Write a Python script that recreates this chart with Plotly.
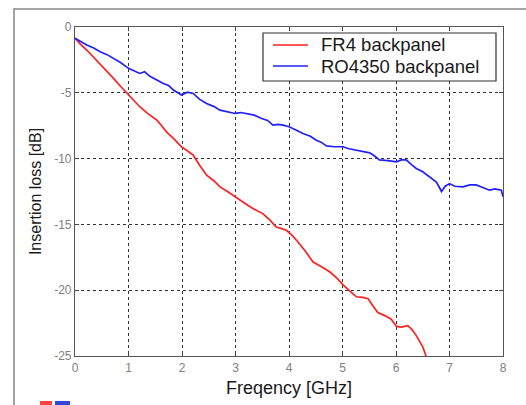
import plotly.graph_objects as go

# FR4 backpanel (red)
fr4_x = [0.0, 0.1, 0.22, 0.35, 0.47, 0.6, 0.72, 0.85, 1.0, 1.1, 1.21, 1.35, 1.53, 1.62, 1.71, 1.85, 1.99, 2.1, 2.21, 2.33, 2.46, 2.6, 2.71, 2.85, 2.99,
         3.1, 3.25, 3.35, 3.51, 3.65, 3.76, 3.85, 3.95, 4.05, 4.14, 4.3, 4.45, 4.6, 4.76, 4.9, 5.01, 5.15, 5.26, 5.38, 5.48, 5.57, 5.66,
         5.8, 5.91, 6.01, 6.1, 6.22, 6.3, 6.38, 6.45, 6.5, 6.57]
fr4_y = [-0.85, -1.3, -1.75, -2.3, -2.76, -3.35, -3.9, -4.5, -5.17, -5.6, -6.06, -6.55, -7.08, -7.5, -7.97, -8.5, -9.11, -9.4, -9.74, -10.5, -11.26, -11.7, -12.15, -12.5, -12.9,
         -13.2, -13.6, -13.85, -14.18, -14.7, -15.2, -15.3, -15.45, -15.8, -16.2, -17.0, -17.86, -18.2, -18.6, -19.1, -19.6, -20.1, -20.5, -20.55, -20.65, -21.2, -21.7,
         -21.95, -22.2, -22.75, -22.8, -22.7, -23.0, -23.45, -23.9, -24.3, -25.1]

# RO4350 backpanel (blue)
ro_x = [0.0, 0.1, 0.22, 0.35, 0.47, 0.6, 0.72, 0.85, 1.0, 1.1, 1.21, 1.3, 1.4, 1.53, 1.65, 1.75, 1.84, 1.99, 2.1, 2.21, 2.33, 2.46, 2.6, 2.71, 2.85, 2.99,
        3.1, 3.21, 3.35, 3.49, 3.6, 3.7, 3.8, 3.89, 4.0, 4.12, 4.26, 4.4, 4.51, 4.6, 4.7, 4.85, 5.01, 5.12, 5.26, 5.4, 5.51, 5.6, 5.69,
        5.85, 6.01, 6.1, 6.19, 6.3, 6.38, 6.5, 6.63, 6.75, 6.8, 6.85, 6.92, 7.0, 7.1, 7.25, 7.38, 7.5, 7.62, 7.75, 7.85, 7.97, 8.0]
ro_y = [-0.86, -1.1, -1.37, -1.6, -1.88, -2.1, -2.38, -2.7, -3.14, -3.3, -3.53, -3.4, -3.75, -4.03, -4.3, -4.45, -4.79, -5.17, -4.95, -5.05, -5.5, -5.81, -6.05, -6.32, -6.45, -6.57,
        -6.5, -6.57, -6.7, -6.95, -7.1, -7.46, -7.4, -7.46, -7.58, -7.8, -8.09, -8.3, -8.6, -8.75, -9.03, -9.1, -9.1, -9.25, -9.36, -9.45, -9.56, -9.8, -10.1,
        -10.15, -10.25, -10.1, -10.1, -10.5, -10.75, -11.0, -11.4, -11.77, -12.1, -12.5, -12.1, -11.9, -12.1, -12.15, -12.0, -12.0, -12.2, -12.4, -12.3, -12.4, -12.9]

series_names = ["FR4 backpanel", "RO4350 backpanel"]
series_colors = ["#ff2020", "#2020ff"]

x_ticks = [0, 1, 2, 3, 4, 5, 6, 7, 8]
y_ticks = [0, -5, -10, -15, -20, -25]

FONT = "Liberation Sans, Arial, sans-serif"

# pixel geometry of plot area
L, R, T, B = 75, 503, 27, 356
W, H = 526, 405
PW, PH = R - L, B - T


def px(xp):
    return (xp - L) / PW


def py(yp):
    return (B - yp) / PH


fig = go.Figure()
fig.add_trace(go.Scatter(x=fr4_x, y=fr4_y, mode="lines", name=series_names[0],
                         line=dict(color=series_colors[0], width=1.7)))
fig.add_trace(go.Scatter(x=ro_x, y=ro_y, mode="lines", name=series_names[1],
                         line=dict(color=series_colors[1], width=1.7)))

axis_common = dict(showgrid=True, gridcolor="#333333", griddash="dot", gridwidth=1,
                   showline=True, linecolor="#555555", linewidth=1.2, mirror="ticks",
                   ticks="inside", ticklen=4, tickcolor="#444444", zeroline=False,
                   tickfont=dict(family=FONT, size=12, color="#808080"))

fig.update_xaxes(range=[0, 8], tickvals=x_ticks, ticktext=[str(v) for v in x_ticks],
                 title=dict(text="Freqency [GHz]", font=dict(family=FONT, size=18, color="#1a1a1a"), standoff=7),
                 **axis_common)
fig.update_yaxes(range=[-25, 0], tickvals=y_ticks, ticktext=[str(v) for v in y_ticks],
                 title=dict(text="Insertion loss [dB]", font=dict(family=FONT, size=16, color="#1a1a1a"), standoff=8),
                 **axis_common)

# outer figure frame (gray line top/left)
fig.add_shape(type="rect", xref="paper", yref="paper",
              x0=px(14), x1=1.2, y0=-0.3, y1=py(9),
              line=dict(color="#888888", width=1.5), fillcolor="rgba(0,0,0,0)", layer="below")
# clipped remnants at bottom-left
fig.add_shape(type="rect", xref="paper", yref="paper",
              x0=px(40), x1=px(52), y0=py(406), y1=py(401),
              line=dict(width=0), fillcolor="#ff4444")
fig.add_shape(type="rect", xref="paper", yref="paper",
              x0=px(55), x1=px(70), y0=py(406), y1=py(401),
              line=dict(width=0), fillcolor="#3344dd")

# legend box (drawn manually to match layout)
fig.add_shape(type="rect", xref="paper", yref="paper",
              x0=px(263), x1=px(496), y0=py(81), y1=py(33),
              line=dict(color="#333333", width=1.2), fillcolor="white", layer="above")
for i, (name, col) in enumerate(zip(series_names, series_colors)):
    yc = 45 + i * 21
    fig.add_shape(type="line", xref="paper", yref="paper",
                  x0=px(273), x1=px(308), y0=py(yc), y1=py(yc),
                  line=dict(color=col, width=1.7), layer="above")
    fig.add_annotation(xref="paper", yref="paper", x=px(319), y=py(yc),
                       xanchor="left", yanchor="middle", showarrow=False, text=name,
                       font=dict(family=FONT, size=18.5, color="#1a1a1a"))

fig.update_layout(
    width=W, height=H,
    margin=dict(l=L, r=W - R, t=T, b=H - B),
    paper_bgcolor="white", plot_bgcolor="white",
    showlegend=False,
)

fig.write_html("out.html")
